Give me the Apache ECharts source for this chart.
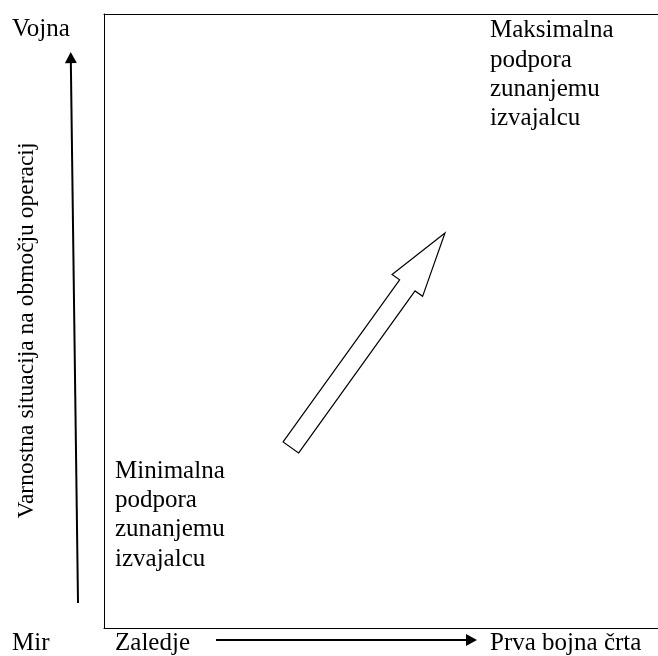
<!DOCTYPE html>
<html>
<head>
<meta charset="utf-8">
<script src="https://cdn.jsdelivr.net/npm/echarts@6/dist/echarts.min.js"></script>
<style>
  html, body { margin: 0; padding: 0; background: #fff; }
  #chart { width: 658px; height: 656px; }
</style>
</head>
<body>
<div id="chart"></div>
<script>
/* Diagram: support to the external contractor vs. security situation. Axes are 0..100, hidden. */
const arrowFrom = [[-4.69, 4.07], [20.22, -1.95], [33.72, 29.40]];
const arrowTo = [[-6.01, 93.8], [67.33, -1.95], [61.55, 64.33]];
const arrowKind = ['solid', 'solid', 'hollow'];

const labelText = [
  'Vojna',
  'Mir',
  'Zaledje',
  'Prva bojna črta',
  'Maksimalna\npodpora\nzunanjemu\nizvajalcu',
  'Minimalna\npodpora\nzunanjemu\nizvajalcu',
  'Varnostna situacija na območju operacij'
];
const labelAt = [
  [-16.61, 97.56], [-16.61, -2.56], [1.99, -2.56], [69.68, -2.56],
  [69.68, 99.67], [1.99, 27.93], [-13.90, 48.45]
];
const labelVAlign = ['middle', 'middle', 'middle', 'middle', 'top', 'top', 'middle'];
const labelRotate = [0, 0, 0, 0, 0, 0, 90];

const SERIF = "'Liberation Serif', 'Times New Roman', serif";
const chart = echarts.init(document.getElementById('chart'), null, { renderer: 'canvas' });

function arrowShape(params, api) {
  const p1 = api.coord([api.value(0), api.value(1)]);
  const p2 = api.coord([api.value(2), api.value(3)]);
  const dx = p2[0] - p1[0], dy = p2[1] - p1[1];
  const L = Math.sqrt(dx * dx + dy * dy);
  const ux = dx / L, uy = dy / L, nx = -uy, ny = ux;
  const kind = arrowKind[params.dataIndex];
  if (kind === 'solid') {
    const hl = 11, hw = 6;
    const b = [p2[0] - ux * hl, p2[1] - uy * hl];
    return {
      type: 'group',
      children: [
        { type: 'line', shape: { x1: p1[0], y1: p1[1], x2: b[0], y2: b[1] },
          style: { stroke: '#000', lineWidth: 2 } },
        { type: 'polygon',
          shape: { points: [p2, [b[0] + nx * hw, b[1] + ny * hw], [b[0] - nx * hw, b[1] - ny * hw]] },
          style: { fill: '#000' } }
      ]
    };
  }
  // hollow block arrow
  const sh = 9.5, hh = 18.8, hl = 64.5;
  const b = [p2[0] - ux * hl, p2[1] - uy * hl];
  const pt = (o, k) => [o[0] + nx * k, o[1] + ny * k];
  return {
    type: 'polygon',
    shape: { points: [pt(p1, sh), pt(b, sh), pt(b, hh), p2, pt(b, -hh), pt(b, -sh), pt(p1, -sh)] },
    style: { fill: '#fff', stroke: '#000', lineWidth: 1.2 }
  };
}

function labelShape(params, api) {
  const i = params.dataIndex;
  const p = api.coord([api.value(0), api.value(1)]);
  const rot = labelRotate[i];
  return {
    type: 'text',
    x: p[0], y: p[1],
    rotation: rot * Math.PI / 180,
    style: {
      text: labelText[i],
      font: (rot ? '23.5px ' : '25px ') + SERIF,
      fill: '#000',
      align: rot ? 'center' : 'left',
      verticalAlign: labelVAlign[i],
      lineHeight: 29.3
    }
  };
}

// box: left, bottom and top edges only (no right edge)
const edge = { show: true, onZero: false, lineStyle: { color: '#000', width: 1 } };
const bare = { axisTick: { show: false }, axisLabel: { show: false }, splitLine: { show: false } };

chart.setOption({
  animation: false,
  backgroundColor: '#fff',
  grid: { left: 104, top: 14, right: 0, bottom: 28 },
  xAxis: [
    Object.assign({ type: 'value', min: 0, max: 100, position: 'bottom', axisLine: edge }, bare),
    Object.assign({ type: 'value', min: 0, max: 100, position: 'top', axisLine: edge }, bare)
  ],
  yAxis: Object.assign({ type: 'value', min: 0, max: 100, position: 'left', axisLine: edge }, bare),
  series: [
    { type: 'custom', clip: false, silent: true, renderItem: arrowShape,
      data: arrowFrom.map((f, i) => [f[0], f[1], arrowTo[i][0], arrowTo[i][1]]) },
    { type: 'custom', clip: false, silent: true, renderItem: labelShape,
      data: labelAt.map((p) => [p[0], p[1]]) }
  ]
});
</script>
</body>
</html>
